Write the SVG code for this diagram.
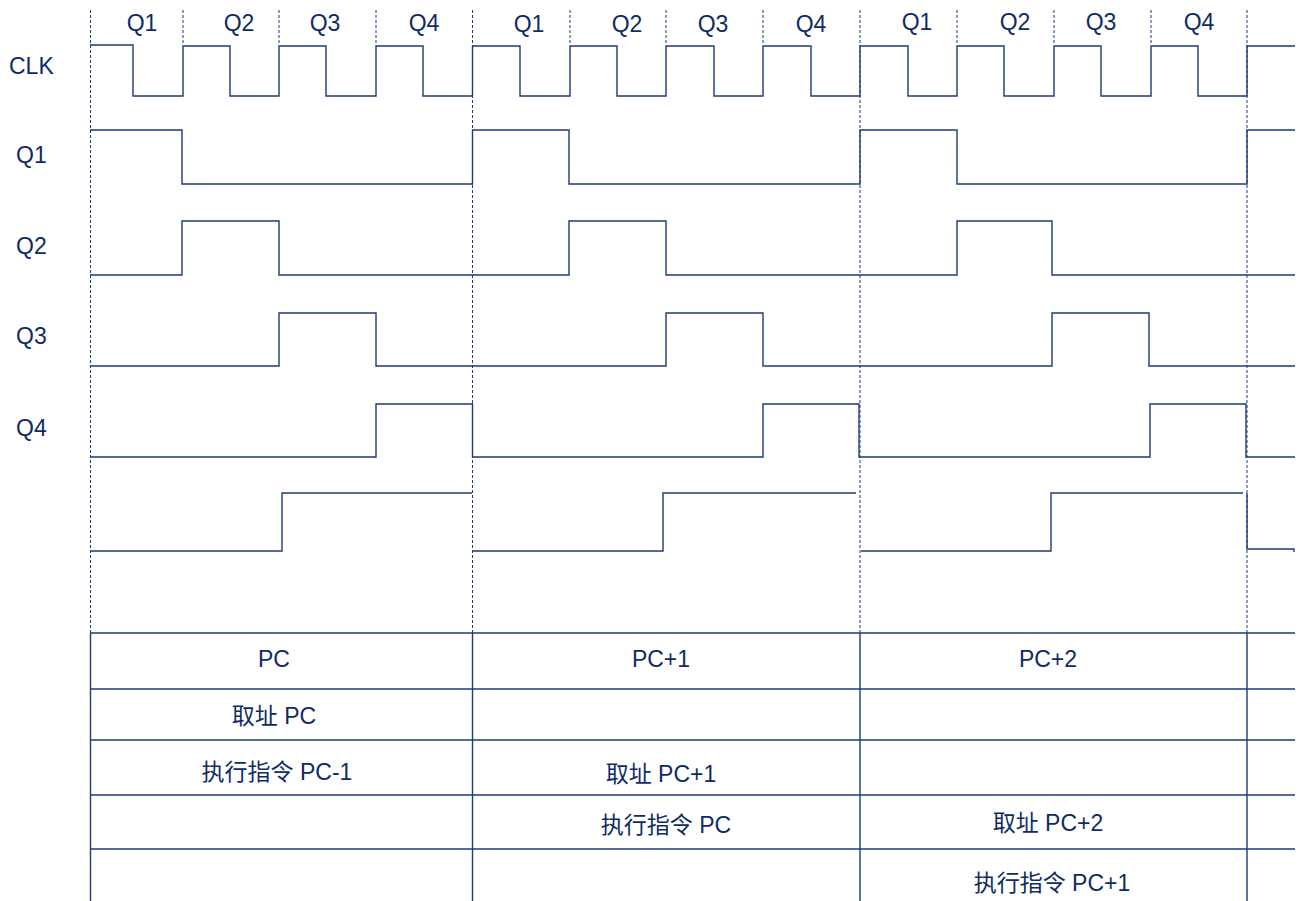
<svg xmlns="http://www.w3.org/2000/svg" width="1299" height="901" viewBox="0 0 1299 901">
<style>
text{font-family:"Liberation Sans","Noto Sans CJK SC",sans-serif;font-size:23px;fill:#0f2b66}
.t{text-anchor:middle}
.w{fill:none;stroke:#1f3a76;stroke-width:1.4}
.d{fill:none;stroke:#1f3a76;stroke-width:1;stroke-dasharray:3 2}
.g{fill:none;stroke:#1f3a76;stroke-width:1.4}
</style>
<rect width="1299" height="901" fill="#fff"/>
<g id="grid-dashed">
<path class="d" d="M90.5,10V633M472.5,10V633M860,10V633M1247,10V633"/>
<path class="d" d="M183,10V45M279,10V45M376,10V45M570,10V45M666,10V45M763,10V45M957,10V45M1054,10V45M1151,10V45"/>
</g>
<g id="labels">
<text x="9" y="74">CLK</text>
<text x="16" y="163">Q1</text>
<text x="16" y="254">Q2</text>
<text x="16" y="344">Q3</text>
<text x="16" y="436">Q4</text>
</g>
<g id="phase-labels">
<text class="t" x="142" y="31">Q1</text>
<text class="t" x="239" y="31">Q2</text>
<text class="t" x="325" y="31">Q3</text>
<text class="t" x="424" y="31">Q4</text>
<text class="t" x="529" y="32">Q1</text>
<text class="t" x="627" y="32">Q2</text>
<text class="t" x="713" y="32">Q3</text>
<text class="t" x="811" y="32">Q4</text>
<text class="t" x="917" y="30">Q1</text>
<text class="t" x="1015" y="30">Q2</text>
<text class="t" x="1101" y="30">Q3</text>
<text class="t" x="1199" y="30">Q4</text>
</g>
<g id="clk">
<path class="w" d="M90,45H133V96H183V46H230V96H279V46H326V96H376V46H423V96H472.5V46H520V96H570V46H617V96H666V46H714V96H763V46H811V96H860V46H908V96H957V46H1004V96H1054V46H1101V96H1151V46H1198V96H1247V46H1295"/>
</g>
<g id="q1">
<path class="w" d="M90,130H182V184H472.5V130H569V184H860V130H957V184H1247V130H1295"/>
</g>
<g id="q2">
<path class="w" d="M90,275H182V221H279V275H569V221H666V275H957V221H1052V275H1295"/>
</g>
<g id="q3">
<path class="w" d="M90,366H279V313H376V366H666V313H763V366H1052V313H1149V366H1295"/>
</g>
<g id="q4">
<path class="w" d="M90,457H376V404H472.5V457H763V404H859V457H1150V404H1246V457H1295"/>
</g>
<g id="sig5">
<path class="w" d="M90,551H282V493H472"/>
<path class="w" d="M473,551H663V493H856"/>
<path class="w" d="M861,551H1051V493H1243"/>
<path class="w" d="M1247,493V549H1294V552"/>
</g>
<g id="table">
<path class="g" d="M90,633H1295M90,689H1295M90,740H1295M90,795H1295M90,849H1295"/>
<path class="g" d="M90.5,633V901M472.5,633V901M860,633V901M1247,633V901"/>
<text class="t" x="274" y="667">PC</text>
<text class="t" x="661" y="667">PC+1</text>
<text class="t" x="1048" y="667">PC+2</text>
<text class="t" x="274" y="724">取址 PC</text>
<text class="t" x="277" y="780">执行指令 PC-1</text>
<text class="t" x="661" y="782">取址 PC+1</text>
<text class="t" x="666" y="833">执行指令 PC</text>
<text class="t" x="1048" y="831">取址 PC+2</text>
<text class="t" x="1052" y="891">执行指令 PC+1</text>
</g>
</svg>
